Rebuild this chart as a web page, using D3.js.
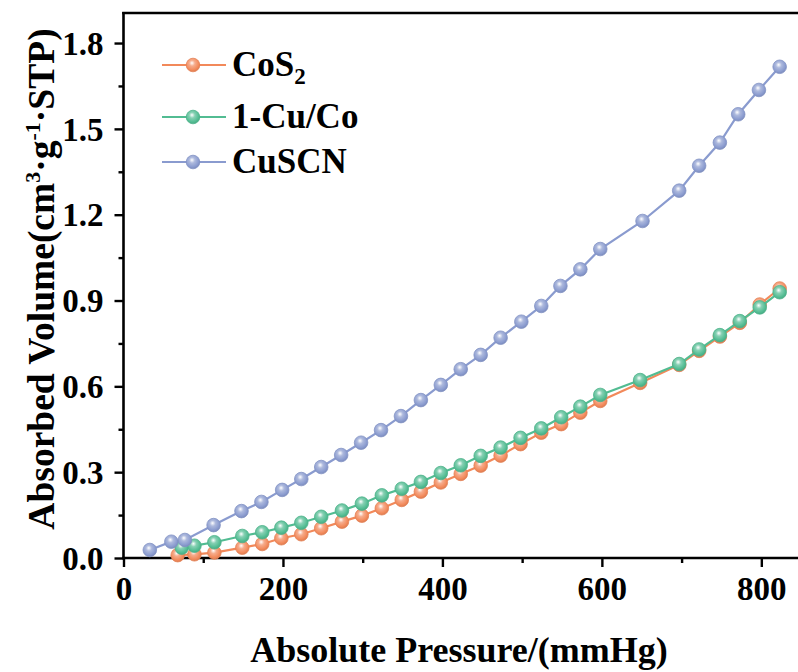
<!DOCTYPE html>
<html>
<head>
<meta charset="utf-8">
<script src="https://cdn.jsdelivr.net/npm/d3@7/dist/d3.min.js"></script>
<style>
  html, body { margin: 0; padding: 0; background: #fff; }
  svg { display: block; }
  text { font-family: "Liberation Serif", "Times New Roman", serif; font-weight: bold; fill: #000; }
</style>
</head>
<body>
<svg id="chart" width="798" height="672"></svg>
<script>
// Gas uptake isotherms: pressure (mmHg) vs absorbed volume (cm3/g STP)
const seriesNames = ["CoS2", "1-Cu/Co", "CuSCN"];

const cos2Pressure = [68, 89, 114, 149, 174, 198, 223, 248, 274, 299, 324, 349, 373, 398, 423, 448, 473, 498, 524, 549, 573, 598, 648, 697, 722, 748, 773, 798, 823];
const cos2Volume   = [0.010, 0.013, 0.019, 0.036, 0.049, 0.069, 0.083, 0.104, 0.127, 0.148, 0.174, 0.203, 0.232, 0.264, 0.294, 0.323, 0.358, 0.398, 0.438, 0.468, 0.508, 0.549, 0.612, 0.675, 0.724, 0.774, 0.822, 0.886, 0.942];

const cuCoPressure = [73, 89, 114, 149, 174, 198, 223, 248, 274, 299, 324, 349, 373, 398, 423, 448, 473, 498, 524, 549, 573, 598, 648, 697, 722, 748, 773, 798, 823];
const cuCoVolume   = [0.036, 0.043, 0.055, 0.077, 0.090, 0.106, 0.123, 0.144, 0.166, 0.190, 0.219, 0.242, 0.266, 0.297, 0.324, 0.357, 0.386, 0.420, 0.453, 0.492, 0.529, 0.570, 0.622, 0.678, 0.729, 0.779, 0.828, 0.876, 0.929];

const cuscnPressure = [33, 60, 77, 113, 148, 173, 199, 223, 248, 273, 298, 323, 348, 373, 398, 423, 448, 473, 499, 524, 548, 573, 598, 651, 697, 722, 748, 771, 797, 823];
const cuscnVolume   = [0.028, 0.057, 0.063, 0.115, 0.164, 0.196, 0.238, 0.276, 0.318, 0.360, 0.403, 0.447, 0.496, 0.552, 0.605, 0.660, 0.710, 0.770, 0.826, 0.881, 0.951, 1.009, 1.080, 1.178, 1.284, 1.371, 1.452, 1.551, 1.636, 1.717];

const xTicks = [0, 200, 400, 600, 800];
const xMinorTicks = [100, 300, 500, 700];
const yTicks = [0, 0.3, 0.6, 0.9, 1.2, 1.5, 1.8];
const yMinorTicks = [0.15, 0.45, 0.75, 1.05, 1.35, 1.65];

const colors = ["#f2895a", "#52bc92", "#8a9bcf"];

const series = [
  { name: seriesNames[0], x: cos2Pressure, y: cos2Volume, color: colors[0], id: "g0" },
  { name: seriesNames[1], x: cuCoPressure, y: cuCoVolume, color: colors[1], id: "g1" },
  { name: seriesNames[2], x: cuscnPressure, y: cuscnVolume, color: colors[2], id: "g2" }
];

const svg = d3.select("#chart");

const x = d3.scaleLinear().domain([0, 846]).range([123.5, 798]);
const y = d3.scaleLinear().domain([0, 1.905]).range([558, 13]);

// Sphere-like shading for the markers
const defs = svg.append("defs");
series.forEach(s => {
  const g = defs.append("radialGradient").attr("id", s.id)
    .attr("cx", "45%").attr("cy", "40%").attr("r", "60%")
    .attr("fx", "42%").attr("fy", "35%");
  g.append("stop").attr("offset", "0%").attr("stop-color", "#ffffff");
  g.append("stop").attr("offset", "35%").attr("stop-color", d3.interpolateRgb(s.color, "#fff")(0.3));
  g.append("stop").attr("offset", "80%").attr("stop-color", s.color);
  g.append("stop").attr("offset", "100%").attr("stop-color", d3.color(s.color).darker(0.3));
});

// Axes
const xAxis = svg.append("g").attr("transform", "translate(0,558)")
  .call(d3.axisBottom(x).tickValues(xTicks).tickSize(9).tickPadding(10).tickFormat(d3.format("d")));
const xMinor = svg.append("g").attr("transform", "translate(0,558)")
  .call(d3.axisBottom(x).tickValues(xMinorTicks).tickSize(5).tickFormat(""));
const yAxis = svg.append("g").attr("transform", "translate(123.5,0)")
  .call(d3.axisLeft(y).tickValues(yTicks).tickSize(9).tickPadding(9).tickFormat(d3.format(".1f")));
const yMinor = svg.append("g").attr("transform", "translate(123.5,0)")
  .call(d3.axisLeft(y).tickValues(yMinorTicks).tickSize(5).tickFormat(""));

[xAxis, xMinor, yAxis, yMinor].forEach(a => {
  a.select(".domain").remove();
  a.selectAll(".tick line").attr("stroke", "#000").attr("stroke-width", 2.4);
});
xAxis.selectAll(".tick text")
  .attr("font-size", 33).attr("font-family", "Liberation Serif, serif").attr("font-weight", "bold")
  .attr("y", 19).attr("dy", "0.71em");
yAxis.selectAll(".tick text")
  .attr("font-size", 33).attr("font-family", "Liberation Serif, serif").attr("font-weight", "bold")
  .attr("x", -20).attr("dy", "0.34em");

// Frame lines: left, bottom, top
svg.append("line").attr("x1", 123.5).attr("x2", 123.5).attr("y1", 12).attr("y2", 559.2)
  .attr("stroke", "#000").attr("stroke-width", 2.6);
svg.append("line").attr("x1", 122.2).attr("x2", 798).attr("y1", 558).attr("y2", 558)
  .attr("stroke", "#000").attr("stroke-width", 2.6);
svg.append("line").attr("x1", 122.2).attr("x2", 798).attr("y1", 13).attr("y2", 13)
  .attr("stroke", "#000").attr("stroke-width", 2.6);

// Series lines and markers
const line = d3.line().x(d => x(d[0])).y(d => y(d[1]));
series.forEach(s => {
  const pts = s.x.map((v, i) => [v, s.y[i]]);
  const g = svg.append("g");
  g.append("path").attr("d", line(pts)).attr("fill", "none")
    .attr("stroke", s.color).attr("stroke-width", 2.2);
  g.selectAll("circle").data(pts).join("circle")
    .attr("cx", d => x(d[0])).attr("cy", d => y(d[1])).attr("r", 6.8)
    .attr("fill", `url(#${s.id})`)
    .attr("stroke", d3.color(s.color).darker(0.15)).attr("stroke-width", 0.8);
});

// Legend
const legendRows = [65, 117, 162];
series.forEach((s, i) => {
  const ly = legendRows[i];
  svg.append("line").attr("x1", 162).attr("x2", 226).attr("y1", ly).attr("y2", ly)
    .attr("stroke", s.color).attr("stroke-width", 2.2);
  svg.append("circle").attr("cx", 193).attr("cy", ly).attr("r", 6.8)
    .attr("fill", `url(#${s.id})`)
    .attr("stroke", d3.color(s.color).darker(0.15)).attr("stroke-width", 0.8);
  const t = svg.append("text")
    .attr("x", 232).attr("y", ly + 11)
    .attr("font-size", 35);
  if (s.name === "CoS2") {
    t.append("tspan").text("CoS");
    t.append("tspan").attr("font-size", 23).attr("dy", 8).text("2");
  } else {
    t.text(s.name);
  }
});

// Axis titles
svg.append("text")
  .attr("x", 459).attr("y", 662)
  .attr("text-anchor", "middle").attr("font-size", 36)
  .text("Absolute Pressure/(mmHg)");

const yTitle = svg.append("text")
  .attr("transform", "translate(54,279) rotate(-90)")
  .attr("text-anchor", "middle").attr("font-size", 37.5);
yTitle.append("tspan").text("Absorbed Volume(cm");
yTitle.append("tspan").attr("font-size", 22).attr("dy", -14).text("3");
yTitle.append("tspan").attr("dy", 14).text("·g");
yTitle.append("tspan").attr("font-size", 22).attr("dy", -14).text("-1");
yTitle.append("tspan").attr("dy", 14).text("·STP)");
</script>
</body>
</html>
